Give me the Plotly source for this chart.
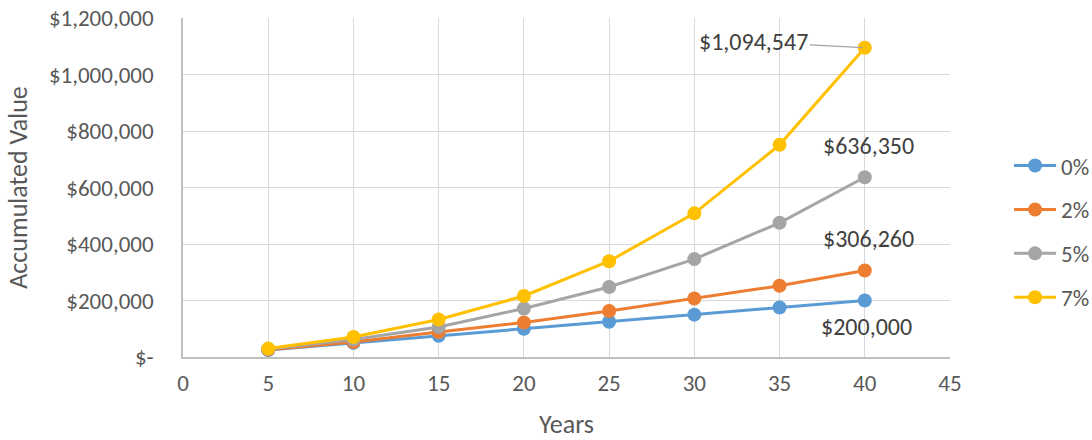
import plotly.graph_objects as go

years = [5, 10, 15, 20, 25, 30, 35, 40]
rate_0 = [25000, 50000, 75000, 100000, 125000, 150000, 175000, 200000]
rate_2 = [26000, 53000, 88500, 122000, 163000, 207000, 252000, 306260]
rate_5 = [28000, 62000, 106000, 171500, 248000, 346500, 475000, 636350]
rate_7 = [29800, 71000, 132500, 216000, 339000, 508500, 751000, 1094547]

series_names = ["0%", "2%", "5%", "7%"]
series_values = [rate_0, rate_2, rate_5, rate_7]
series_colors = ["#5B9BD5", "#ED7D31", "#A5A5A5", "#FFC000"]

y_tickvals = [0, 200000, 400000, 600000, 800000, 1000000, 1200000]
y_ticktext = ["$-", "$200,000", "$400,000", "$600,000", "$800,000", "$1,000,000", "$1,200,000"]
x_tickvals = [0, 5, 10, 15, 20, 25, 30, 35, 40, 45]

FONT = "Carlito, Calibri, Lato, sans-serif"
TXT = "#595959"
FS = 23

fig = go.Figure()
for name, vals, col in zip(series_names, series_values, series_colors):
    fig.add_trace(go.Scatter(
        x=years, y=vals, name=name, mode="lines+markers",
        line=dict(color=col, width=3),
        marker=dict(color=col, size=14),
        legendgroup=name,
    ))

def fmt(v):
    return "${:,}".format(v)

# data labels on final points
label_specs = [
    (rate_0[-1], 2, -26),
    (rate_2[-1], 4, 32),
    (rate_5[-1], 4, 32),
]
for val, xs, ys in label_specs:
    fig.add_annotation(x=years[-1], y=val, text=fmt(val), showarrow=False,
                       xshift=xs, yshift=ys, font=dict(size=24, color="#404040", family=FONT))
fig.add_annotation(x=years[-1], y=rate_7[-1], text=fmt(rate_7[-1]), showarrow=True,
                   arrowhead=0, arrowwidth=1.2, arrowcolor="#A5A5A5", ax=-111, ay=-6,
                   standoff=2, font=dict(size=24, color="#404040", family=FONT))

fig.update_layout(
    width=1092, height=440,
    margin=dict(l=183, r=142, t=18, b=83, autoexpand=False),
    paper_bgcolor="white", plot_bgcolor="white",
    font=dict(family=FONT, size=FS, color=TXT),
    showlegend=True,
    legend=dict(x=1.077, xanchor="left", y=0.628, yanchor="top",
                font=dict(size=FS, color=TXT, family=FONT), itemwidth=42,
                tracegroupgap=11, bgcolor="rgba(0,0,0,0)"),
    xaxis=dict(range=[0, 45], tickvals=x_tickvals, showgrid=True, gridcolor="#D9D9D9",
               gridwidth=1.3, zeroline=False, showline=True, linecolor="#BFBFBF", linewidth=1.5,
               automargin=False, ticks="outside", ticklen=5, tickcolor="rgba(0,0,0,0)",
               title=dict(text="Years", font=dict(size=26, color=TXT, family=FONT), standoff=33),
               tickfont=dict(size=FS, color=TXT, family=FONT)),
    yaxis=dict(range=[0, 1200000], tickvals=y_tickvals, ticktext=y_ticktext, showgrid=True,
               gridcolor="#D9D9D9", gridwidth=1.3, zeroline=False, showline=True,
               linecolor="#BFBFBF", linewidth=1.5, automargin=False,
               ticks="outside", ticklen=23, tickcolor="rgba(0,0,0,0)",
               title=dict(text="Accumulated Value", font=dict(size=26, color=TXT, family=FONT), standoff=14),
               tickfont=dict(size=FS, color=TXT, family=FONT)),
)

fig.write_html("out.html")
